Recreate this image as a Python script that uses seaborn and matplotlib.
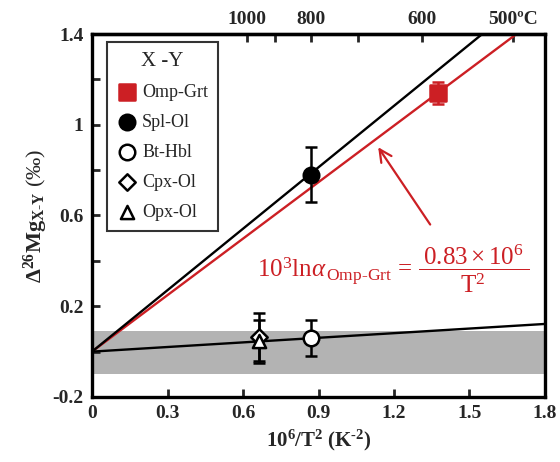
import numpy as np
import pandas as pd
import matplotlib
matplotlib.use("Agg")
import matplotlib.pyplot as plt
import seaborn as sns

# ---- data ----
pairs = ["Omp-Grt", "Spl-Ol", "Bt-Hbl", "Cpx-Ol", "Opx-Ol"]
x_vals = [1.376, 0.869, 0.869, 0.665, 0.665]
y_vals = [1.14, 0.78, 0.06, 0.065, 0.045]
y_err = [0.05, 0.12, 0.08, 0.105, 0.095]

line_x = [0.0, 1.8]
omp_line_y = [0.0, 1.494]   # slope 0.83
spl_line_y = [0.0, 1.625]
low_line_y = [0.0, 0.122]

band_lo, band_hi = -0.1, 0.09

temps_c = [1000, 900, 800, 700, 600, 500]
temp_labels = ["1000", "", "800", "", "600", "500ºC"]

xticks = [0, 0.3, 0.6, 0.9, 1.2, 1.5, 1.8]
xtick_labels = ["0", "0.3", "0.6", "0.9", "1.2", "1.5", "1.8"]
yticks = [-0.2, 0.0, 0.2, 0.4, 0.6, 0.8, 1.0, 1.2, 1.4]
ytick_labels = ["-0.2", "", "0.2", "", "0.6", "", "1", "", "1.4"]

RED = "#cc1f24"

sns.set_theme(style="ticks")
plt.rcParams["font.family"] = ["Liberation Serif", "DejaVu Serif"]
plt.rcParams["mathtext.fontset"] = "custom"
plt.rcParams["mathtext.rm"] = "Liberation Serif"
plt.rcParams["mathtext.bf"] = "Liberation Serif:bold"
plt.rcParams["mathtext.it"] = "Liberation Serif:italic"
plt.rcParams["mathtext.fallback"] = "stix"

fig = plt.figure(figsize=(5.6, 4.62), dpi=100)
ax = fig.add_axes([0.1643, 0.1407, 0.9732 - 0.1643, 0.9264 - 0.1407])

ax.axhspan(band_lo, band_hi, color="#b3b3b3", lw=0, zorder=0)

lines = pd.DataFrame({
    "x": line_x * 3,
    "y": omp_line_y + spl_line_y + low_line_y,
    "fit": ["omp"] * 2 + ["spl"] * 2 + ["low"] * 2,
})
sns.lineplot(data=lines, x="x", y="y", hue="fit",
             palette={"omp": RED, "spl": "black", "low": "black"},
             lw=1.7, legend=False, ax=ax, zorder=2)

df = pd.DataFrame({"pair": pairs, "x": x_vals, "y": y_vals, "err": y_err})

styles = {
    "Omp-Grt": dict(marker="s", fc=RED, ec=RED, s=120, ecol=RED),
    "Spl-Ol": dict(marker="o", fc="black", ec="black", s=125, ecol="black"),
    "Bt-Hbl": dict(marker="o", fc="white", ec="black", s=125, ecol="black"),
    "Cpx-Ol": dict(marker="D", fc="white", ec="black", s=70, ecol="black"),
    "Opx-Ol": dict(marker="^", fc="white", ec="black", s=90, ecol="black"),
}

for _, r in df.iterrows():
    st = styles[r["pair"]]
    ax.errorbar(r["x"], r["y"], yerr=r["err"], fmt="none", ecolor=st["ecol"],
                elinewidth=1.8, capsize=4, capthick=1.8, zorder=3)

for p in pairs:
    st = styles[p]
    sub = df[df["pair"] == p]
    sns.scatterplot(data=sub, x="x", y="y", marker=st["marker"], s=st["s"],
                    color=st["fc"], edgecolor=st["ec"], linewidth=1.8,
                    label=p, ax=ax, zorder=4)

ax.set_xlim(0, 1.8)
ax.set_ylim(-0.2, 1.4)
ax.set_xticks(xticks)
ax.set_xticklabels(xtick_labels)
ax.set_yticks(yticks)
ax.set_yticklabels(ytick_labels)
ax.tick_params(direction="in", length=6, width=2, labelsize=14, pad=6)
for lab in ax.get_xticklabels() + ax.get_yticklabels():
    lab.set_fontweight("bold")
for s in ax.spines.values():
    s.set_linewidth(2.4)
    s.set_color("black")

# top temperature axis
top = ax.secondary_xaxis("top")
top.set_xticks([1e6 / (t + 273.15) ** 2 for t in temps_c])
top.set_xticklabels(temp_labels)
top.tick_params(direction="in", length=6, width=2, labelsize=14, pad=4)
for lab in top.get_xticklabels():
    lab.set_fontweight("bold")
top.spines["top"].set_linewidth(2.4)

ax.set_xlabel(r"$\mathbf{10^6/T^2\ (K^{\text{-}2})}$", fontsize=15, labelpad=4)
ax.set_ylabel(r"$\mathbf{\Delta^{26}Mg_{X\text{-}Y}}$ (‰)", fontsize=16, labelpad=2)

leg = ax.legend(title="X -Y", loc="upper left", bbox_to_anchor=(0.033, 0.978),
                frameon=True, fancybox=False, fontsize=13, title_fontsize=15,
                labelspacing=0.72, handletextpad=0.3, borderpad=0.55,
                handlelength=1.1, borderaxespad=0)
leg.get_frame().set_edgecolor("black")
leg.get_frame().set_linewidth(1.5)

ax.annotate("", xy=(1.131, 0.911), xytext=(1.35, 0.55),
            arrowprops=dict(arrowstyle="->", color=RED, lw=1.6, mutation_scale=22))

ax.text(0.655, 0.365,
        r"$10^3\mathrm{ln}\alpha_{\,\mathrm{Omp\text{-}Grt}}\,=\,\dfrac{\;0.83\times10^6\;}{\mathrm{T}^2}$",
        color=RED, fontsize=18, va="center", ha="left")

fig.savefig("out.png", dpi=100)
